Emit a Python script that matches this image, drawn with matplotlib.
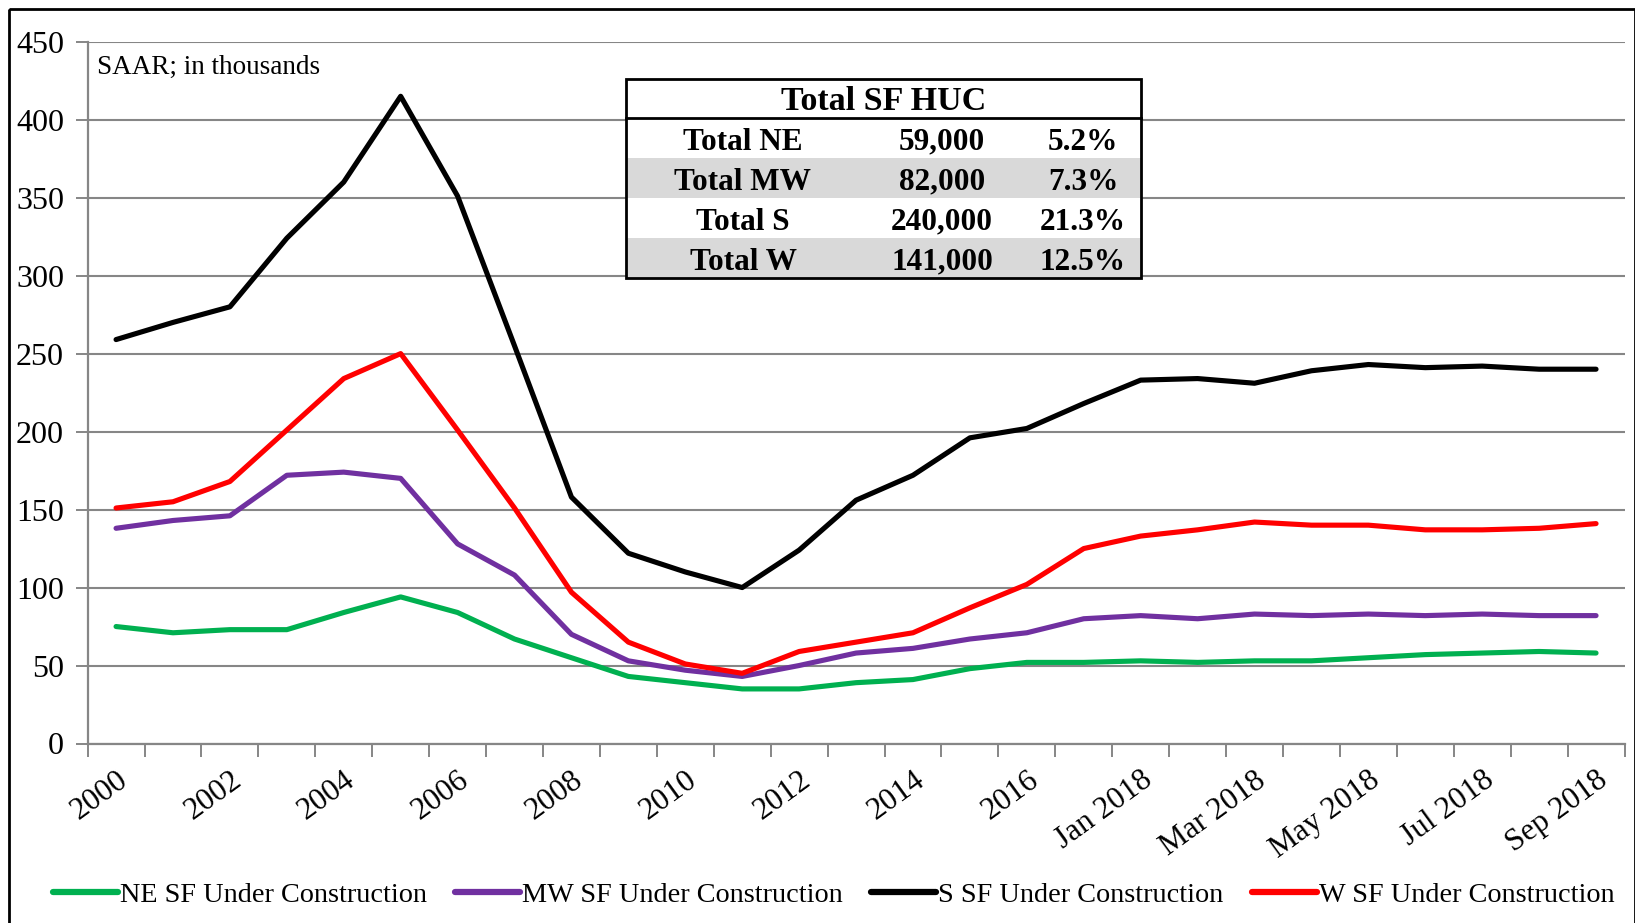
import numpy as np
import matplotlib
matplotlib.use("Agg")
from matplotlib import pyplot as plt
from matplotlib.patches import Rectangle

plt.rcParams['font.family'] = ['Liberation Serif', 'DejaVu Serif']

categories = [str(y) for y in range(2000, 2018)] + [
    'Jan 2018', 'Feb 2018', 'Mar 2018', 'Apr 2018', 'May 2018',
    'Jun 2018', 'Jul 2018', 'Aug 2018', 'Sep 2018']

ne = [75, 71, 73, 73, 84, 94, 84, 67, 55, 43, 39, 35, 35, 39, 41, 48, 52, 52,
      53, 52, 53, 53, 55, 57, 58, 59, 58]
mw = [138, 143, 146, 172, 174, 170, 128, 108, 70, 53, 47, 43, 50, 58, 61, 67, 71, 80,
      82, 80, 83, 82, 83, 82, 83, 82, 82]
s = [259, 270, 280, 324, 360, 415, 351, 255, 158, 122, 110, 100, 124, 156, 172, 196, 202, 218,
     233, 234, 231, 239, 243, 241, 242, 240, 240]
w = [151, 155, 168, 201, 234, 250, 201, 151, 97, 65, 51, 45, 59, 65, 71, 87, 102, 125,
     133, 137, 142, 140, 140, 137, 137, 138, 141]

series_names = ['NE SF Under Construction', 'MW SF Under Construction',
                'S SF Under Construction', 'W SF Under Construction']
series_colors = ['#00b050', '#7030a0', '#000000', '#ff0000']

table_title = 'Total SF HUC'
table_rows = ['Total NE', 'Total MW', 'Total S', 'Total W']
table_units = ['59,000', '82,000', '240,000', '141,000']
table_pct = ['5.2%', '7.3%', '21.3%', '12.5%']

W, H = 1635, 923
fig = plt.figure(figsize=(W / 100, H / 100), dpi=100)
fig.patch.set_facecolor('white')

ax = fig.add_axes([87.6 / W, 1 - 743.5 / H, (1624.5 - 87.6) / W, (743.5 - 41.7) / H])
x = np.arange(len(categories))
for vals, name, col in zip([ne, mw, s, w], series_names, series_colors):
    ax.plot(x, vals, color=col, lw=3.7, label=name, solid_joinstyle='round',
            solid_capstyle='round', zorder=3)

ax.set_xlim(-0.5, len(categories) - 0.5)
ax.set_ylim(0, 450)
ax.set_yticks(np.arange(0, 451, 50))
ax.grid(axis='y', color='#868686', lw=1.5)
ax.set_axisbelow(True)
for sp in ['top', 'right']:
    ax.spines[sp].set_visible(False)
for sp in ['left', 'bottom']:
    ax.spines[sp].set_color('#868686')
    ax.spines[sp].set_linewidth(1.6)

# tick marks between categories, labels every other category
ax.set_xticks(np.arange(-0.5, len(categories), 1.0))
ax.set_xticklabels([])
ax.set_xticks(x[::2], minor=True)
ax.set_xticklabels(categories[::2], minor=True, rotation=36, ha='right',
                   rotation_mode='anchor', fontsize=22.5)
ax.tick_params(axis='x', which='major', length=9, width=1.4, color='#868686', direction='out')
ax.tick_params(axis='x', which='minor', length=0, pad=16)
ax.tick_params(axis='y', length=9, width=1.4, color='#868686', labelsize=23, pad=8)

ax.text(0.006, 0.963, 'SAAR; in thousands', transform=ax.transAxes, fontsize=19.5,
        va='center', ha='left')

# summary table drawn in figure pixel coordinates
ov = fig.add_axes([0, 0, 1, 1], facecolor='none')
ov.set_xlim(0, W)
ov.set_ylim(H, 0)
ov.axis('off')
tx0, tx1, ty0 = 626, 1141, 79
title_h = 39
row_h = 40
ov.add_patch(Rectangle((tx0, ty0), tx1 - tx0, title_h + row_h * 4,
                       facecolor='white', edgecolor='none', zorder=1))
for i in range(4):
    if i % 2 == 1:
        ov.add_patch(Rectangle((tx0, ty0 + title_h + i * row_h), tx1 - tx0, row_h,
                               facecolor='#d9d9d9', edgecolor='none', zorder=2))
ov.add_patch(Rectangle((tx0, ty0), tx1 - tx0, title_h + row_h * 4,
                       facecolor='none', edgecolor='black', lw=2, zorder=4))
ov.plot([tx0, tx1], [ty0 + title_h, ty0 + title_h], color='black', lw=2, zorder=4)
ov.text((tx0 + tx1) / 2, ty0 + title_h / 2 + 3, table_title, ha='center', va='center',
        fontsize=24.5, fontweight='bold', zorder=5)
for i, (lab, un, pc) in enumerate(zip(table_rows, table_units, table_pct)):
    yc = ty0 + title_h + (i + 0.5) * row_h + 4
    ov.text(743, yc, lab, ha='center', va='center', fontsize=22.5, fontweight='bold', zorder=5)
    ov.text(942, yc, un, ha='center', va='center', fontsize=22.5, fontweight='bold', zorder=5)
    ov.text(1083, yc, pc, ha='center', va='center', fontsize=22.5, fontweight='bold', zorder=5)

# outer frame
ov.add_patch(Rectangle((9, 9), W - 9, H, facecolor='none', edgecolor='black', lw=2, zorder=6))

handles, labels = ax.get_legend_handles_labels()
leg = fig.legend(handles, labels, loc='center', bbox_to_anchor=(0.51, 1 - 895 / H), ncol=4,
                 frameon=False, fontsize=20.3, handlelength=2.3, handletextpad=0.08,
                 columnspacing=1.0, borderpad=0.2)
for ln in leg.get_lines():
    ln.set_linewidth(4.5)

fig.savefig('out.png', dpi=100)
